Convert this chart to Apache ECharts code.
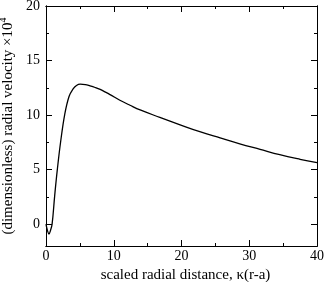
<!DOCTYPE html>
<html><head><meta charset="utf-8">
<script src="https://cdn.jsdelivr.net/npm/echarts@6/dist/echarts.min.js"></script>
<style>html,body{margin:0;padding:0;background:#fff}#c{width:327px;height:282px}</style>
</head><body><div id="c"></div>
<script>
var xs = [0, 0.2, 0.44, 0.65, 0.9, 1.28, 1.67, 2.17, 2.76, 3.4, 4.0, 4.5, 5.05, 5.8, 6.5, 7.25, 8.0, 8.7, 9.45, 10.9, 12.4, 13.9, 16.8, 19.8, 22.7, 25.7, 28.6, 31.6, 34.5, 37.5, 40];
var ys = [0, -0.55, -0.91, -0.6, 0, 2.6, 5.0, 7.6, 10.05, 11.7, 12.4, 12.72, 12.84, 12.8, 12.68, 12.53, 12.35, 12.13, 11.88, 11.36, 10.9, 10.47, 9.79, 9.11, 8.48, 7.91, 7.37, 6.86, 6.37, 5.95, 5.64];
var xMajor = [0, 10, 20, 30, 40];
var xMinor = [5, 15, 25, 35];
var yMajor = [0, 5, 10, 15, 20];
var yMinor = [2.5, 7.5, 12.5, 17.5];
var xTitle = 'scaled radial distance, \u03ba(r-a)';
var yTitle = '(dimensionless) radial velocity \u00d710';
var yTitleSup = '4';

var FONT = 'Liberation Serif';
var X_MIN = 0, X_MAX = 40, Y_MIN = -2, Y_MAX = 20;
var lineStyle = {color: '#000', width: 1};

function xAxisDef(pos, ticks, len, labels, name) {
  return {
    type: 'value', position: pos, min: X_MIN, max: X_MAX,
    axisLine: {show: true, onZero: false, lineStyle: lineStyle},
    axisTick: {show: true, inside: true, length: len, customValues: ticks, lineStyle: lineStyle},
    axisLabel: {show: labels, customValues: ticks, color: '#000', fontFamily: FONT, fontSize: 14, margin: 3},
    splitLine: {show: false},
    name: name || '', nameLocation: 'middle', nameGap: 17,
    nameTextStyle: {color: '#000', fontFamily: FONT, fontSize: 15, padding: [0, 0, 0, 8]}
  };
}
function yAxisDef(pos, ticks, len, labels, name) {
  return {
    type: 'value', position: pos, min: Y_MIN, max: Y_MAX,
    axisLine: {show: true, onZero: false, lineStyle: lineStyle},
    axisTick: {show: true, inside: true, length: len, customValues: ticks, lineStyle: lineStyle},
    axisLabel: {show: labels, customValues: ticks, color: '#000', fontFamily: FONT, fontSize: 14, margin: 6},
    splitLine: {show: false},
    name: name || '', nameLocation: 'middle', nameGap: 24,
    nameTextStyle: {color: '#000', fontFamily: FONT, fontSize: 15,
      rich: {sup: {fontFamily: FONT, fontSize: 10, verticalAlign: 'top', padding: [0,0,8,0], color: '#000'}}}
  };
}

var chart = echarts.init(document.getElementById('c'), null, {renderer: 'canvas'});
chart.setOption({
  animation: false,
  backgroundColor: '#fff',
  grid: {left: 46, right: 10, top: 6, bottom: 36, containLabel: false, outerBoundsMode: 'none'},
  xAxis: [
    xAxisDef('bottom', xMajor, 6, true, xTitle),
    xAxisDef('bottom', xMinor, 3, false),
    xAxisDef('top', xMajor, 6, false),
    xAxisDef('top', xMinor, 3, false)
  ],
  yAxis: [
    yAxisDef('left', yMajor, 6, true, yTitle + '{sup|' + yTitleSup + '}'),
    yAxisDef('left', yMinor, 3, false),
    yAxisDef('right', yMajor, 6, false),
    yAxisDef('right', yMinor, 3, false)
  ],
  series: [{
    type: 'line', xAxisIndex: 0, yAxisIndex: 0,
    data: xs.map(function (x, i) { return [x, ys[i]]; }),
    showSymbol: false, smooth: 0.4,
    lineStyle: {color: '#000', width: 1.3}
  }]
});
</script></body></html>
